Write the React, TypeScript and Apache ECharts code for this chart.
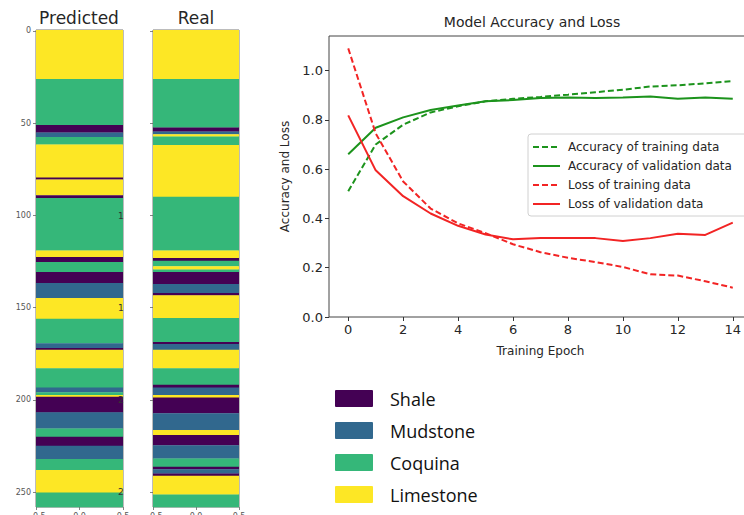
import React, { useEffect, useRef } from "react";
import * as echarts from "echarts";

// ---------- data ----------
const lithologies = ["Shale", "Mudstone", "Coquina", "Limestone"];
const lithologyColors = ["#440154", "#31688e", "#35b779", "#fde725"];

const depthTicks = [0, 50, 100, 150, 200, 250];
const stripTop = -0.5;
const stripBottom = 258;

// start depth of each band and its class (0 Shale, 1 Mudstone, 2 Coquina, 3 Limestone)
const predictedTops = [-0.5, 26, 51, 55, 57.5, 61.5, 79.5, 80.5, 89, 90.5, 119, 122.5, 125.2, 130.6, 136.6, 144.7, 156, 169.2, 171.9, 172.8, 182.8, 193.3, 195.8, 197.3, 198.2, 206.7, 215.4, 219.9, 224.8, 232, 238, 250.2];
const predictedClasses = [3, 2, 0, 1, 2, 3, 0, 3, 0, 2, 3, 0, 2, 0, 1, 3, 2, 1, 0, 3, 2, 1, 2, 3, 0, 1, 2, 0, 1, 2, 3, 2];

const realTops = [-0.5, 26, 52.3, 54.5, 56, 57.2, 61.8, 89.9, 119, 123, 124.5, 127.5, 129.3, 130.6, 137.1, 142, 143.3, 155.6, 168.6, 169.7, 172.8, 182.8, 191.8, 193.3, 197.3, 198.7, 207.2, 216.3, 219, 224.5, 231.7, 236.2, 237.5, 239.8, 241.1, 251.2];
const realClasses = [3, 2, 0, 1, 3, 2, 3, 2, 3, 0, 2, 3, 2, 0, 1, 0, 3, 2, 0, 1, 3, 2, 0, 1, 3, 0, 1, 3, 0, 1, 2, 0, 1, 0, 3, 2];

const stripXTicks = [-0.5, 0, 0.5];

const epochs = [0, 1, 2, 3, 4, 5, 6, 7, 8, 9, 10, 11, 12, 13, 14];
const trainAcc = [0.51, 0.7, 0.78, 0.83, 0.855, 0.875, 0.885, 0.893, 0.902, 0.912, 0.922, 0.935, 0.94, 0.948, 0.957];
const valAcc = [0.66, 0.768, 0.81, 0.84, 0.858, 0.875, 0.88, 0.888, 0.89, 0.888, 0.89, 0.895, 0.885, 0.89, 0.885];
const trainLoss = [1.09, 0.745, 0.55, 0.44, 0.38, 0.34, 0.295, 0.263, 0.24, 0.223, 0.203, 0.173, 0.168, 0.145, 0.119];
const valLoss = [0.818, 0.595, 0.49, 0.42, 0.37, 0.335, 0.315, 0.32, 0.32, 0.32, 0.308, 0.32, 0.338, 0.333, 0.383];

const accLossTicks = [0, 0.2, 0.4, 0.6, 0.8, 1.0];
const epochTicks = [0, 2, 4, 6, 8, 10, 12, 14];

const seriesNames = [
  "Accuracy of training data",
  "Accuracy of validation data",
  "Loss of training data",
  "Loss of validation data",
];

// ---------- helpers ----------
function bands(tops: number[], classes: number[]) {
  return tops.map((t, i) => [t, i + 1 < tops.length ? tops[i + 1] : stripBottom, classes[i]]);
}

const renderBand = (params: any, api: any) => {
  const s = api.value(0);
  const e = api.value(1);
  const c = api.value(2);
  const p1 = api.coord([-0.5, s]);
  const p2 = api.coord([0.5, e]);
  return {
    type: "rect",
    shape: { x: p1[0], y: p1[1], width: p2[0] - p1[0], height: p2[1] - p1[1] + 0.3 },
    style: { fill: lithologyColors[c] },
  };
};

const FONT = "DejaVu Sans";
const TXT = "#262626";
const GREEN = "#1c931c";
const RED = "#f22424";

export default function App() {
  const ref = useRef<HTMLDivElement>(null);

  useEffect(() => {
    if (!ref.current) return;
    const chart = echarts.init(ref.current, null, { renderer: "svg" });

    const stripY = (gi: number, labels: boolean) => ({
      type: "value",
      gridIndex: gi,
      inverse: true,
      min: stripTop,
      max: stripBottom,
      splitLine: { show: false },
      axisLine: { show: false, onZero: false },
      axisTick: { show: true, length: 3, lineStyle: { color: "#666", width: 0.8 }, customValues: depthTicks },
      axisLabel: {
        show: labels,
        customValues: depthTicks,
        fontSize: 8,
        color: "#555",
        fontFamily: FONT,
        margin: 5,
      },
    });
    const stripX = (gi: number) => ({
      type: "value",
      gridIndex: gi,
      min: -0.5,
      max: 0.5,
      splitLine: { show: false },
      axisLine: { show: false, onZero: false },
      axisTick: { show: true, length: 3, lineStyle: { color: "#666", width: 0.8 }, customValues: stripXTicks },
      axisLabel: {
        customValues: stripXTicks,
        fontSize: 8,
        color: "#555",
        fontFamily: FONT,
        margin: 5,
        formatter: (v: number) => (v < 0 ? "\u22120.5" : v.toFixed(1)),
      },
    });

    const lineSeries = (name: string, data: number[], color: string, dashed: boolean) => ({
      name,
      type: "line",
      xAxisIndex: 2,
      yAxisIndex: 2,
      data: epochs.map((e, i) => [e, data[i]]),
      showSymbol: false,
      symbol: "none",
      lineStyle: { color, width: 2, type: dashed ? [6, 3] : "solid" },
      itemStyle: { color },
    });

    chart.setOption({
      animation: false,
      backgroundColor: "#ffffff",
      grid: [
        { left: 36, top: 30, width: 87, height: 477, outerBoundsMode: "none", show: true, borderColor: "#555", borderWidth: 0.8, backgroundColor: "transparent" },
        { left: 153, top: 30, width: 86, height: 477, outerBoundsMode: "none", show: true, borderColor: "#555", borderWidth: 0.8, backgroundColor: "transparent" },
        { left: 329, top: 36, width: 423, height: 281, outerBoundsMode: "none", show: true, borderColor: "#444", borderWidth: 1, backgroundColor: "transparent" },
      ],
      xAxis: [
        stripX(0),
        stripX(1),
        {
          type: "value",
          gridIndex: 2,
          min: -0.7,
          max: 14.7,
          name: "Training Epoch",
          nameLocation: "middle",
          nameGap: 28,
          nameTextStyle: { fontSize: 12, color: TXT, fontFamily: FONT },
          splitLine: { show: false },
          axisLine: { show: false, onZero: false },
          axisTick: { length: 4, lineStyle: { color: "#333", width: 1 }, customValues: epochTicks },
          axisLabel: { customValues: epochTicks, fontSize: 13, color: TXT, fontFamily: FONT, margin: 6 },
        },
      ],
      yAxis: [
        stripY(0, true),
        stripY(1, false),
        {
          type: "value",
          gridIndex: 2,
          min: 0,
          max: 1.14,
          name: "Accuracy and Loss",
          nameLocation: "middle",
          nameRotate: 90,
          nameGap: 36,
          nameTextStyle: { fontSize: 12, color: TXT, fontFamily: FONT },
          splitLine: { show: false },
          axisLine: { show: false, onZero: false },
          axisTick: { length: 4, lineStyle: { color: "#333", width: 1 }, customValues: accLossTicks },
          axisLabel: {
            customValues: accLossTicks,
            fontSize: 13,
            color: TXT,
            fontFamily: FONT,
            margin: 6,
            formatter: (v: number) => v.toFixed(1),
          },
        },
      ],
      legend: {
        data: seriesNames,
        orient: "vertical",
        left: 528,
        top: 134,
        itemWidth: 27,
        itemHeight: 12,
        itemGap: 7,
        padding: [7, 40, 6, 4],
        backgroundColor: "rgba(255,255,255,0.85)",
        borderColor: "#d0d0d0",
        borderWidth: 1,
        borderRadius: 3,
        itemStyle: { opacity: 0 },
        textStyle: { fontSize: 12, color: TXT, fontFamily: FONT, padding: [0, 0, 0, 3] },
      },
      series: [
        {
          type: "custom",
          xAxisIndex: 0,
          yAxisIndex: 0,
          renderItem: renderBand,
          data: bands(predictedTops, predictedClasses),
          encode: { y: [0, 1] },
          silent: true,
          z: 1,
        },
        {
          type: "custom",
          xAxisIndex: 1,
          yAxisIndex: 1,
          renderItem: renderBand,
          data: bands(realTops, realClasses),
          encode: { y: [0, 1] },
          silent: true,
          z: 1,
        },
        lineSeries(seriesNames[0], trainAcc, GREEN, true),
        lineSeries(seriesNames[1], valAcc, GREEN, false),
        lineSeries(seriesNames[2], trainLoss, RED, true),
        lineSeries(seriesNames[3], valLoss, RED, false),
      ],
      graphic: [
        { type: "text", x: 79, y: 9, style: { text: "Predicted", fontSize: 17, fontFamily: FONT, fill: TXT, textAlign: "center" } },
        { type: "text", x: 196, y: 9, style: { text: "Real", fontSize: 17, fontFamily: FONT, fill: TXT, textAlign: "center" } },
        { type: "text", x: 532, y: 15, style: { text: "Model Accuracy and Loss", fontSize: 14, fontFamily: FONT, fill: TXT, textAlign: "center" } },
        ...[216, 308, 400, 492].map((y) => ({
          type: "text",
          x: 118,
          y: y - 5,
          z: 10,
          style: { text: y < 350 ? "1" : "2", fontSize: 9, fontFamily: FONT, fill: "#333" },
        })),
        ...lithologies.map((name, i) => ({
          type: "group",
          x: 335,
          y: [390, 422, 454, 486][i],
          children: [
            { type: "rect", shape: { x: 0, y: 0, width: 38, height: 17, r: 1 }, style: { fill: lithologyColors[i] } },
            { type: "text", x: 55, y: 9, style: { text: name, fontSize: 18, fontFamily: "Open Sans", fill: "#111", textVerticalAlign: "middle" } },
          ],
        })),
      ],
    });

    return () => chart.dispose();
  }, []);

  return (
    <div
      ref={ref}
      style={{ position: "absolute", left: 0, top: 0, width: 744, height: 515, overflow: "hidden" }}
    />
  );
}
